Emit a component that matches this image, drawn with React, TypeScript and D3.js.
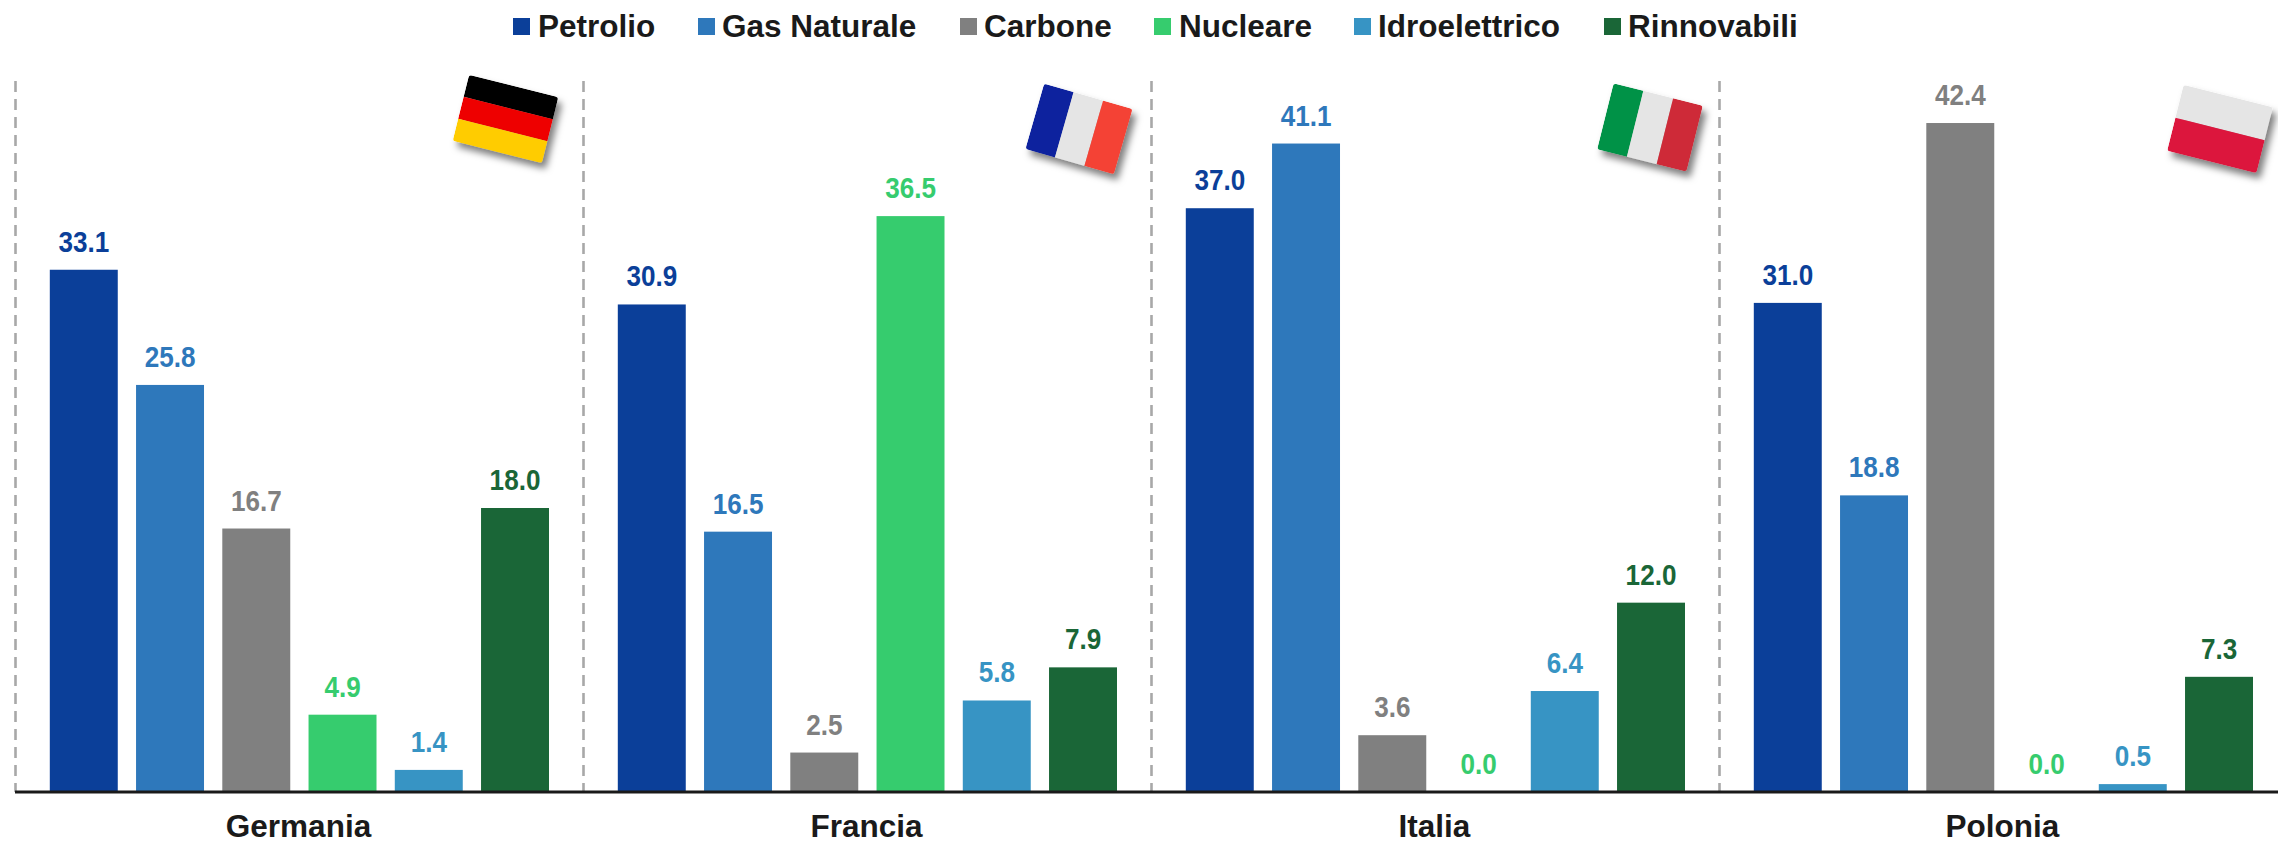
import React from "react";
import * as d3 from "d3";

const WIDTH = 2278;
const HEIGHT = 844;

const countries = ["Germania", "Francia", "Italia", "Polonia"];
const seriesNames = ["Petrolio", "Gas Naturale", "Carbone", "Nucleare", "Idroelettrico", "Rinnovabili"];
const seriesColors = ["#0b3f99", "#2e78bb", "#808080", "#36cc6e", "#3794c4", "#1a6637"];

const petrolio = [33.1, 30.9, 37.0, 31.0];
const gasNaturale = [25.8, 16.5, 41.1, 18.8];
const carbone = [16.7, 2.5, 3.6, 42.4];
const nucleare = [4.9, 36.5, 0.0, 0.0];
const idroelettrico = [1.4, 5.8, 6.4, 0.5];
const rinnovabili = [18.0, 7.9, 12.0, 7.3];
const seriesValues = [petrolio, gasNaturale, carbone, nucleare, idroelettrico, rinnovabili];

const flagStripes = [
  { dir: "h", colors: ["#000000", "#ee0000", "#ffcc00"] },
  { dir: "v", colors: ["#0a209e", "#e5e5e5", "#f44336"] },
  { dir: "v", colors: ["#009246", "#e5e5e5", "#ce2b37"] },
  { dir: "h", colors: ["#e5e5e5", "#dc143c"] },
];
const flagLayout = [
  { cx: 505.5, cy: 119, angle: 14 },
  { cx: 1079, cy: 129, angle: 16 },
  { cx: 1650, cy: 127.5, angle: 14 },
  { cx: 2220, cy: 129, angle: 14 },
];
const FLAG_W = 92;
const FLAG_H = 68;

const legendSwatchX = [513, 698, 960, 1154, 1354, 1604];
const legendTextX = [538, 722, 984, 1179, 1378, 1628];

const baseY = 792;
const topY = 81;
const FONT = "'Liberation Sans', Arial, sans-serif";

export default function App() {
  const y = d3.scaleLinear().domain([0, 45]).range([baseY, topY + 1]);
  const x0 = d3.scaleBand<string>().domain(countries).range([15.5, 15.5 + 568 * 4]);
  const x1 = d3
    .scaleBand<string>()
    .domain(seriesNames)
    .range([34.3, 533.5])
    .paddingInner(0.212)
    .paddingOuter(0);

  return (
    <svg
      width={WIDTH}
      height={HEIGHT}
      viewBox={`0 0 ${WIDTH} ${HEIGHT}`}
      style={{ position: "absolute", left: 0, top: 0, background: "#fff" }}
      fontFamily={FONT}
    >
      <defs>
        <filter id="flagShadow" x="-30%" y="-30%" width="170%" height="170%">
          <feDropShadow dx={4} dy={6} stdDeviation={3.5} floodColor="#000" floodOpacity={0.5} />
        </filter>
        <clipPath id="flagClip">
          <rect x={-FLAG_W / 2} y={-FLAG_H / 2} width={FLAG_W} height={FLAG_H} rx={3} />
        </clipPath>
      </defs>

      {seriesNames.map((name, i) => (
        <g key={name}>
          <rect x={legendSwatchX[i]} y={18} width={17} height={17} fill={seriesColors[i]} />
          <text x={legendTextX[i]} y={37} fontSize={31.5} fontWeight={700} fill="#1a1a1a">
            {name}
          </text>
        </g>
      ))}

      {countries.map((c) => (
        <line
          key={c}
          x1={x0(c)}
          x2={x0(c)}
          y1={topY}
          y2={baseY}
          stroke="#a8a8a8"
          strokeWidth={2.6}
          strokeDasharray="11 7"
        />
      ))}

      {countries.map((c, ci) => (
        <g key={c} transform={`translate(${x0(c)},0)`}>
          {seriesNames.map((s, si) => {
            const v = seriesValues[si][ci];
            const bx = x1(s)!;
            return (
              <g key={s}>
                <rect
                  x={bx}
                  y={y(v)}
                  width={x1.bandwidth()}
                  height={baseY - y(v)}
                  fill={seriesColors[si]}
                />
                <text
                  transform={`translate(${bx + x1.bandwidth() / 2},${y(v) - 18}) scale(0.9,1)`}
                  textAnchor="middle"
                  fontSize={29}
                  fontWeight={700}
                  fill={seriesColors[si]}
                >
                  {v.toFixed(1)}
                </text>
              </g>
            );
          })}
        </g>
      ))}

      <line x1={15} x2={WIDTH} y1={baseY} y2={baseY} stroke="#1a1a1a" strokeWidth={3} />

      {countries.map((c) => (
        <text
          key={c}
          x={x0(c)! + x0.bandwidth() / 2 - 1}
          y={837}
          textAnchor="middle"
          fontSize={31.5}
          fontWeight={700}
          fill="#1a1a1a"
        >
          {c}
        </text>
      ))}

      {flagStripes.map((f, i) => {
        const l = flagLayout[i];
        const n = f.colors.length;
        const band = d3
          .scaleBand<number>()
          .domain(d3.range(n))
          .range(f.dir === "h" ? [-FLAG_H / 2, FLAG_H / 2] : [-FLAG_W / 2, FLAG_W / 2]);
        return (
          <g key={i} filter="url(#flagShadow)">
            <g transform={`translate(${l.cx},${l.cy}) rotate(${l.angle})`}>
              <g clipPath="url(#flagClip)">
                {f.colors.map((col, k) =>
                  f.dir === "h" ? (
                    <rect key={k} x={-FLAG_W / 2} y={band(k)} width={FLAG_W} height={band.bandwidth()} fill={col} />
                  ) : (
                    <rect key={k} x={band(k)} y={-FLAG_H / 2} width={band.bandwidth()} height={FLAG_H} fill={col} />
                  )
                )}
              </g>
            </g>
          </g>
        );
      })}
    </svg>
  );
}
